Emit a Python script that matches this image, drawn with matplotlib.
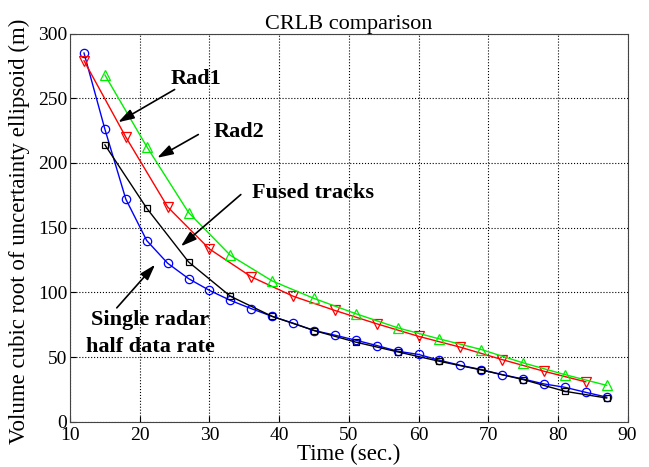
import matplotlib
matplotlib.use('Agg')
import matplotlib.pyplot as plt

# time axis (sec.)
t_single = [12, 15, 18, 21, 24, 27, 30, 33, 36, 39, 42, 45, 48, 51, 54, 57,
            60, 63, 66, 69, 72, 75, 78, 81, 84, 87]
single = [285, 226, 172, 140, 122.5, 110.6, 101.5, 93.8, 87.4, 81.4, 76.2, 70.5,
          66.9, 63, 58.9, 54.5, 52, 47.5, 43.6, 40.3, 36.4, 33, 29.2, 26.6, 22.7, 19]

t_fused = [15, 21, 27, 33, 39, 45, 51, 57, 63, 69, 75, 81, 87]
fused = [214, 165, 123.5, 97, 81.4, 70.5, 61.5, 54, 46.7, 40, 32.6, 23.5, 18.3]

t_rad1 = [12, 18, 24, 30, 36, 42, 48, 54, 60, 66, 72, 78, 84]
rad1 = [279, 220, 166, 133.5, 112, 97, 86, 75.7, 66, 57.6, 48, 39, 30.8]

t_rad2 = [15, 21, 27, 33, 39, 45, 51, 57, 63, 69, 75, 81, 87]
rad2 = [268, 212.6, 161.7, 128.6, 108.8, 95.3, 83.5, 72.6, 64, 55.8, 45.5, 36.4, 28.1]

plt.rcParams['font.family'] = ['Liberation Serif', 'DejaVu Serif']

fig = plt.figure(figsize=(6.49, 4.67), dpi=100)
ax = fig.add_axes([0.108, 0.097, 0.859, 0.831])

ax.plot(t_single, single, color='blue', lw=1, marker='o', mfc='none', ms=6, mew=0.9)
ax.plot(t_fused, fused, color='black', lw=1, marker='s', mfc='none', ms=5, mew=0.9)
ax.plot(t_rad1, rad1, color='red', lw=1, marker='v', mfc='none', ms=7, mew=0.9)
ax.plot(t_rad2, rad2, color='#00ee00', lw=1, marker='^', mfc='none', ms=7, mew=0.9)

ax.set_xlim(10, 90)
ax.set_ylim(0, 300)
ax.set_xticks(range(10, 91, 10))
ax.set_yticks(range(0, 301, 50))
ax.grid(True, color='black', linestyle=':', linewidth=0.8)
ax.tick_params(direction='in', labelsize=14, length=4)
ax.tick_params(axis='y', pad=2)
ax.tick_params(axis='x', pad=4)
for s in ax.spines.values():
    s.set_linewidth(0.8)
    s.set_color('#444444')

ax.set_title('CRLB comparison', fontsize=16, pad=3)
ax.set_xlabel('Time (sec.)', fontsize=16.5, labelpad=0)
ax.set_ylabel('Volume cubic root of uncertainty ellipsoid (m)', fontsize=16.5)
ax.yaxis.set_label_coords(-0.072, 0.49)

arrow = dict(arrowstyle='-|>,head_length=0.8,head_width=0.25', color='black',
             lw=1.2, mutation_scale=12, shrinkA=0, shrinkB=0)
txt = dict(fontsize=16, fontweight='bold', ha='center', va='center')

# label text
ax.text(28.0, 265, 'Rad1', **txt)
ax.text(34.3, 224, 'Rad2', **txt)
ax.text(44.9, 177, 'Fused tracks', **txt)
ax.text(21.5, 68, 'Single radar\nhalf data rate', linespacing=1.45, **txt)

# arrows: (head, tail)
ax.annotate('', xy=(16.9, 231.5), xytext=(25.0, 256.8), arrowprops=arrow)
ax.annotate('', xy=(22.5, 204), xytext=(28.4, 222), arrowprops=arrow)
ax.annotate('', xy=(25.9, 135.6), xytext=(34.5, 175.6), arrowprops=arrow)
ax.annotate('', xy=(22.2, 121.4), xytext=(16.7, 88), arrowprops=arrow)

fig.savefig('out.png', dpi=100)
